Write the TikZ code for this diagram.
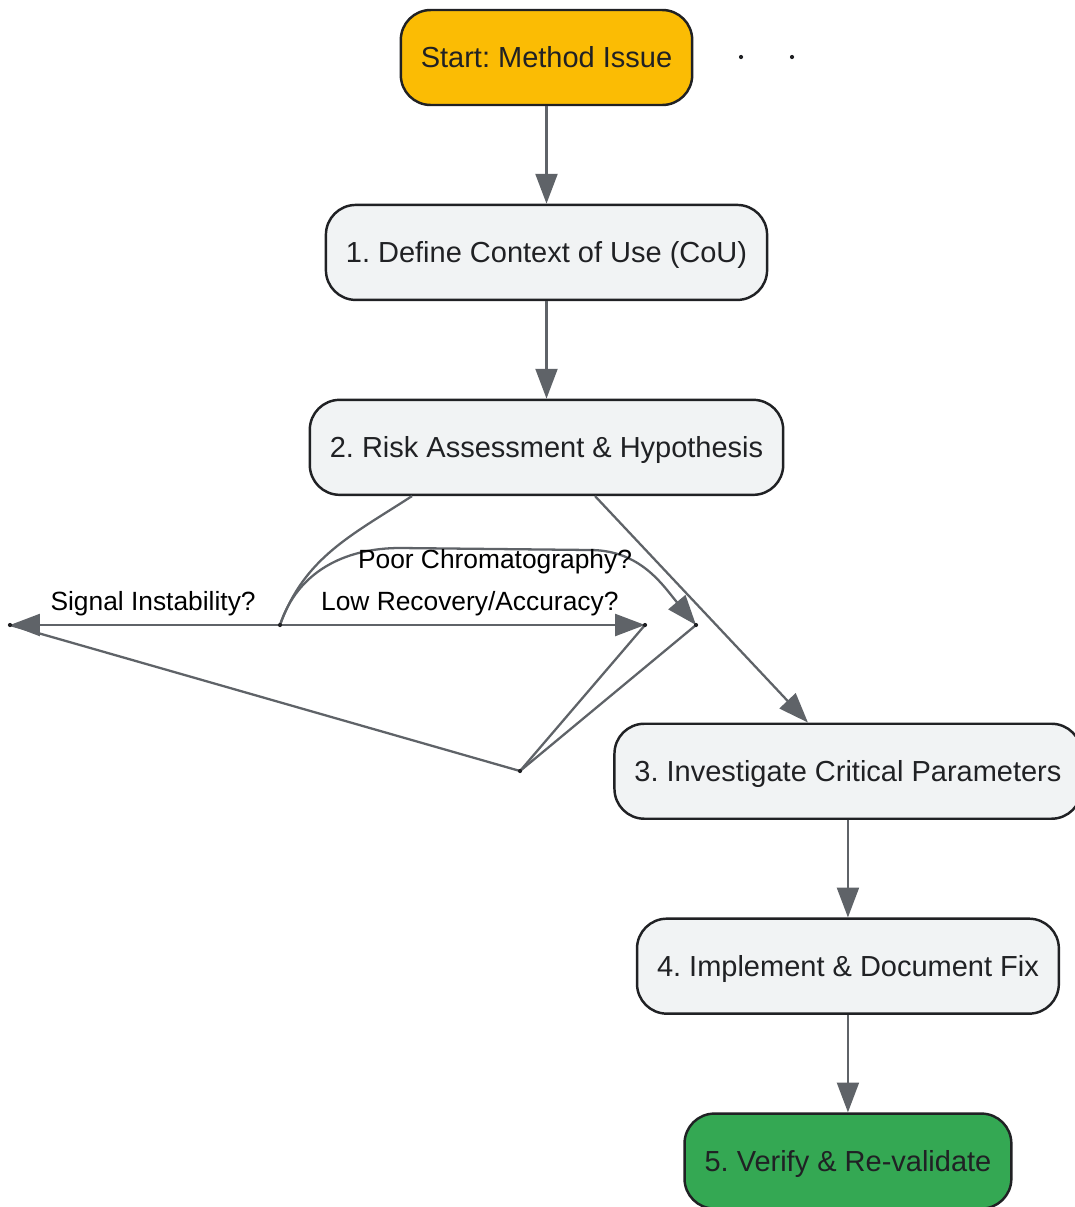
\documentclass[tikz,border=0pt]{standalone}
\usepackage{fontspec}
\setmainfont{Liberation Sans}
\usetikzlibrary{calc,positioning,arrows.meta}
\definecolor{startcol}{HTML}{FBBC04}
\definecolor{donecol}{HTML}{34A853}
\definecolor{boxcol}{HTML}{F1F3F4}
\definecolor{linecol}{HTML}{5F6368}
\definecolor{inkcol}{HTML}{202124}
\frenchspacing
\tikzstyle{flow chart}=[
    x=0.02cm, y=-0.02cm, node distance=1.95cm,
    line width=1.3pt,
    every node/.style={
        align=center,
    },
    stepbox/.style={
        draw=inkcol, fill=boxcol, text=inkcol, line width=1.4pt,
        rounded corners=17pt, minimum height=1.9cm, inner xsep=0.4cm,
        text height=11.9pt, text depth=0pt,
        font=\fontsize{16.5}{20}\selectfont,
    },
    flow/.style={draw=linecol, -{Triangle[length=17pt,width=12.5pt]}},
    link/.style={draw=linecol},
    lbl/.style={text=black, font=\fontsize{15}{18}\selectfont},
]
\newcommand{\joint}[1]{\fill[inkcol] (#1) circle (1.2pt);}

\begin{document}
\begin{tikzpicture}[flow chart]
        \useasboundingbox (0,0) rectangle (1075,1207);
        \node[stepbox, fill=startcol] (start) at (546.5,57.5) {Start: Method Issue};
        \node[stepbox, below=of start] (s1) {1. Define Context of Use (CoU)};
        \node[stepbox, below=of s1] (s2) {2. Risk Assessment \& Hypothesis};
        \node[stepbox, below=4.53cm of s2, xshift=6.03cm] (s3) {3. Investigate Critical Parameters};
        \node[stepbox, below=of s3] (s4) {4. Implement \& Document Fix};
        \node[stepbox, fill=donecol, below=of s4] (s5) {5. Verify \& Re-validate};

        \coordinate (split) at (280,625);
        \coordinate (sig) at (10,625);
        \coordinate (low) at (645,625);
        \coordinate (poor) at (696,625);
        \coordinate (merge) at (520,771);
        \coordinate (d1) at (741,57);
        \coordinate (d2) at (792,57);

        \path
            (start) edge[flow] (s1)
            (s1) edge[flow] (s2)
            (s3) edge[flow] (s4)
            (s4) edge[flow] (s5)
        ;
        \draw[flow] ($(s2.south)+(48.5,0)$) -- ($(s3.north)+(-40,0)$);
        \draw[link] ($(s2.south)+(-134.5,0)$) to[out=213,in=70] (split);
        \draw[flow] (split) -- node[pos=0.47, above=1pt, lbl] {Signal Instability?} (sig);
        \draw[flow] (split) -- node[pos=0.52, above=1pt, lbl] {Low Recovery/Accuracy?} (low);
        \draw[flow] (split) to[out=72,in=180] (400,548) -- node[midway, yshift=-7.5pt, lbl] {Poor Chromatography?} (590,550) to[out=0,in=130] (poor);
        \draw[link] (sig) -- (merge);
        \draw[link] (low) -- (merge);
        \draw[link] (poor) -- (merge);

        \joint{split} \joint{sig} \joint{low} \joint{poor} \joint{merge}
        \joint{d1} \joint{d2}
    \end{tikzpicture}
\end{document}
